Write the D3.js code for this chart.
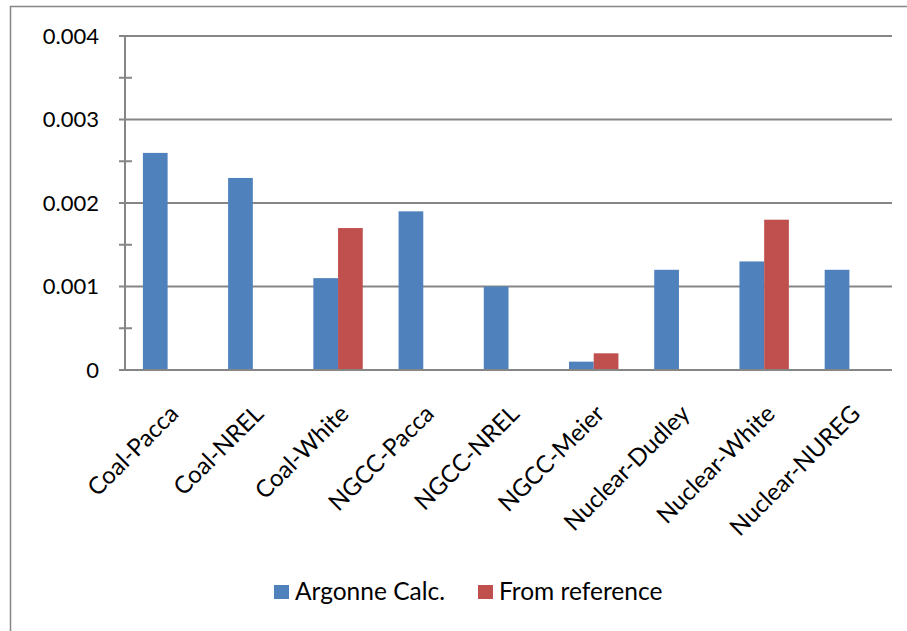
<!DOCTYPE html>
<html><head><meta charset="utf-8">
<script src="https://cdn.jsdelivr.net/npm/d3@7"></script>
<style>body{margin:0;background:#fff;}svg{display:block;font-family:Lato,"Open Sans",sans-serif;}</style>
</head><body>
<script>
const categories = ["Coal-Pacca","Coal-NREL","Coal-White","NGCC-Pacca","NGCC-NREL","NGCC-Meier","Nuclear-Dudley","Nuclear-White","Nuclear-NUREG"];
const seriesNames = ["Argonne Calc.","From reference"];
const argonne = [0.0026,0.0023,0.0011,0.0019,0.0010,0.0001,0.0012,0.0013,0.0012];
const fromRef = [null,null,0.0017,null,null,0.0002,null,0.0018,null];
const yTicks = [0,0.001,0.002,0.003,0.004];
const yTickLabels = ["0","0.001","0.002","0.003","0.004"];
const colors = ["#4F81BD","#C0504D"];

const W=907,H=631;
const svg=d3.select("body").append("svg").attr("width",W).attr("height",H);
svg.append("rect").attr("x",10.5).attr("y",6.5).attr("width",W).attr("height",H).attr("fill","#fff").attr("stroke","#868686").attr("stroke-width",1.5);

const L=125,R=892,T=36,B=370;
const x=d3.scaleBand().domain(categories).range([L,R]).paddingInner(0.42).paddingOuter(0.21);
const xs=d3.scaleBand().domain(seriesNames).range([0,x.bandwidth()]);
const y=d3.scaleLinear().domain([0,0.004]).range([B,T]);

// gridlines
svg.append("g").selectAll("line").data(yTicks).join("line")
 .attr("x1",L-6).attr("x2",R).attr("y1",d=>y(d)).attr("y2",d=>y(d))
 .attr("stroke","#868686").attr("stroke-width",2);
// minor ticks
const minor=[0.0005,0.0015,0.0025,0.0035];
svg.append("g").selectAll("line").data(minor).join("line")
 .attr("x1",L-6).attr("x2",L+7).attr("y1",d=>y(d)).attr("y2",d=>y(d))
 .attr("stroke","#868686").attr("stroke-width",2);
// y axis line
svg.append("line").attr("x1",L).attr("x2",L).attr("y1",T).attr("y2",B).attr("stroke","#868686").attr("stroke-width",2);

// y labels
svg.append("g").selectAll("text").data(yTicks).join("text")
 .attr("x",99).attr("y",d=>y(d)).attr("dy","0.36em").attr("text-anchor","end")
 .attr("font-size",22).attr("fill","#000").text((d,i)=>yTickLabels[i]);

// bars
const data=[argonne,fromRef];
data.forEach((arr,si)=>{
  svg.append("g").selectAll("rect").data(categories.map((c,i)=>({c,v:arr[i]})).filter(d=>d.v!=null)).join("rect")
   .attr("x",d=>x(d.c)+xs(seriesNames[si])).attr("width",xs.bandwidth())
   .attr("y",d=>y(d.v)).attr("height",d=>B-y(d.v)).attr("fill",colors[si]);
});
// redraw baseline over bars
svg.append("line").attr("x1",L-6).attr("x2",R).attr("y1",B).attr("y2",B).attr("stroke","#868686").attr("stroke-width",2);

// x labels
svg.append("g").selectAll("text").data(categories).join("text")
 .attr("transform",d=>`translate(${x(d)+x.bandwidth()/2},${B+33}) rotate(-45)`)
 .attr("text-anchor","end").attr("dy","0.72em").attr("font-size",24).attr("fill","#000").text(d=>d);

// legend
const leg=[{n:seriesNames[0],x:274,c:colors[0]},{n:seriesNames[1],x:478,c:colors[1]}];
leg.forEach(l=>{
  svg.append("rect").attr("x",l.x).attr("y",585).attr("width",15).attr("height",14).attr("fill",l.c);
  svg.append("text").attr("x",l.x+21).attr("y",600).attr("font-size",24.5).attr("fill","#000").text(l.n);
});
</script>
</body></html>
